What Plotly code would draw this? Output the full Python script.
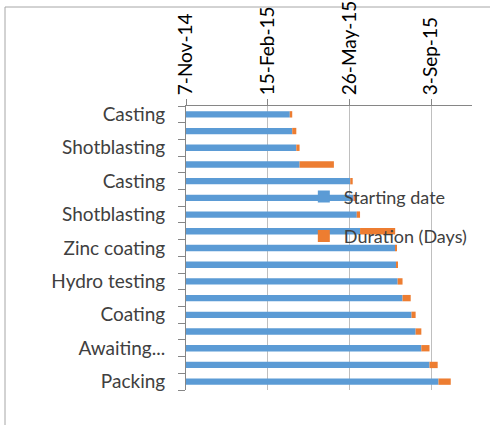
import pandas as pd
import plotly.graph_objects as go

# Task labels (only every other one is shown on the axis, as in the reference)
labels = ["Casting", "", "Shotblasting", "", "Casting", "", "Shotblasting", "",
          "Zinc coating", "", "Hydro testing", "", "Coating", "", "Awaiting...", "", "Packing"]
start_dates = ["2015-03-14", "2015-03-17", "2015-03-22", "2015-03-26", "2015-05-27",
               "2015-05-31", "2015-06-04", "2015-06-08", "2015-07-21", "2015-07-22",
               "2015-07-24", "2015-07-30", "2015-08-10", "2015-08-15", "2015-08-22",
               "2015-09-01", "2015-09-12"]
durations = [3, 5, 4, 42, 3, 4, 4, 43, 1, 2, 6, 10, 5, 7, 10, 10, 15]
tick_dates = ["2014-11-07", "2015-02-15", "2015-05-26", "2015-09-03"]
tick_text = ["7-Nov-14", "15-Feb-15", "26-May-15", "3-Sep-15"]
axis_min, axis_max = "2014-11-07", "2015-10-23"

def serial(d):
    return (pd.Timestamp(d) - pd.Timestamp("1899-12-30")).days

start_serial = [serial(d) for d in start_dates]
ypos = list(range(len(labels)))

fig = go.Figure()
fig.add_trace(go.Bar(y=ypos, x=start_serial, orientation="h", name="Starting date",
                     marker=dict(color="#5B9BD5", line=dict(width=0)), width=0.38,
                     legendgroup="a"))
fig.add_trace(go.Bar(y=ypos, x=durations, base=start_serial, orientation="h",
                     name="Duration (Days)",
                     marker=dict(color="#ED7D31", line=dict(width=0)), width=0.38,
                     legendgroup="b"))

L, T = 186, 106
W, H = 490, 425
pw, ph = 472 - L, 390 - T

fig.update_layout(
    width=W, height=H,
    margin=dict(l=L, r=W - 472, t=T, b=H - 390, autoexpand=False),
    paper_bgcolor="white", plot_bgcolor="white",
    barmode="overlay",
    font=dict(family="Lato", size=18, color="#404040"),
    showlegend=True,
    legend=dict(x=0.412, y=0.745, xanchor="left", yanchor="top",
                bgcolor="rgba(0,0,0,0)", font=dict(size=18, color="#404040"),
                tracegroupgap=13, traceorder="grouped", itemwidth=30),
    xaxis=dict(side="top", range=[serial(axis_min), serial(axis_max)], automargin=False,
               tickmode="array", tickvals=[serial(d) for d in tick_dates], ticktext=tick_text,
               tickangle=-90, ticks="outside", ticklen=6, tickcolor="#868686",
               showline=True, linecolor="#868686", linewidth=1,
               showgrid=True, gridcolor="#bfbfbf", gridwidth=1, zeroline=False,
               tickfont=dict(size=19, color="#000000")),
    yaxis=dict(range=[len(labels) - 0.5, -0.5], tickmode="array", automargin=False,
               tickvals=[i for i, s in enumerate(labels) if s],
               ticktext=[s for s in labels if s], ticks="",
               showline=True, linecolor="#868686", linewidth=1,
               showgrid=False, zeroline=False, ticklabelstandoff=16,
               tickfont=dict(size=19, color="#404040"),
               minor=dict(tick0=-0.5, dtick=1, ticks="outside", ticklen=7,
                          tickcolor="#868686", showgrid=False)),
    shapes=[dict(type="rect", xref="paper", yref="paper",
                 x0=(5 - L) / pw, x1=(W + 10 - L) / pw,
                 y0=(390 - (H + 10)) / ph, y1=(390 - 7) / ph,
                 line=dict(color="#a6a6a6", width=1), fillcolor="rgba(0,0,0,0)", layer="below")],
)

fig.write_html("out.html", config={"displayModeBar": False},
               post_script="document.body.style.margin='0';document.body.style.overflow='hidden';")
